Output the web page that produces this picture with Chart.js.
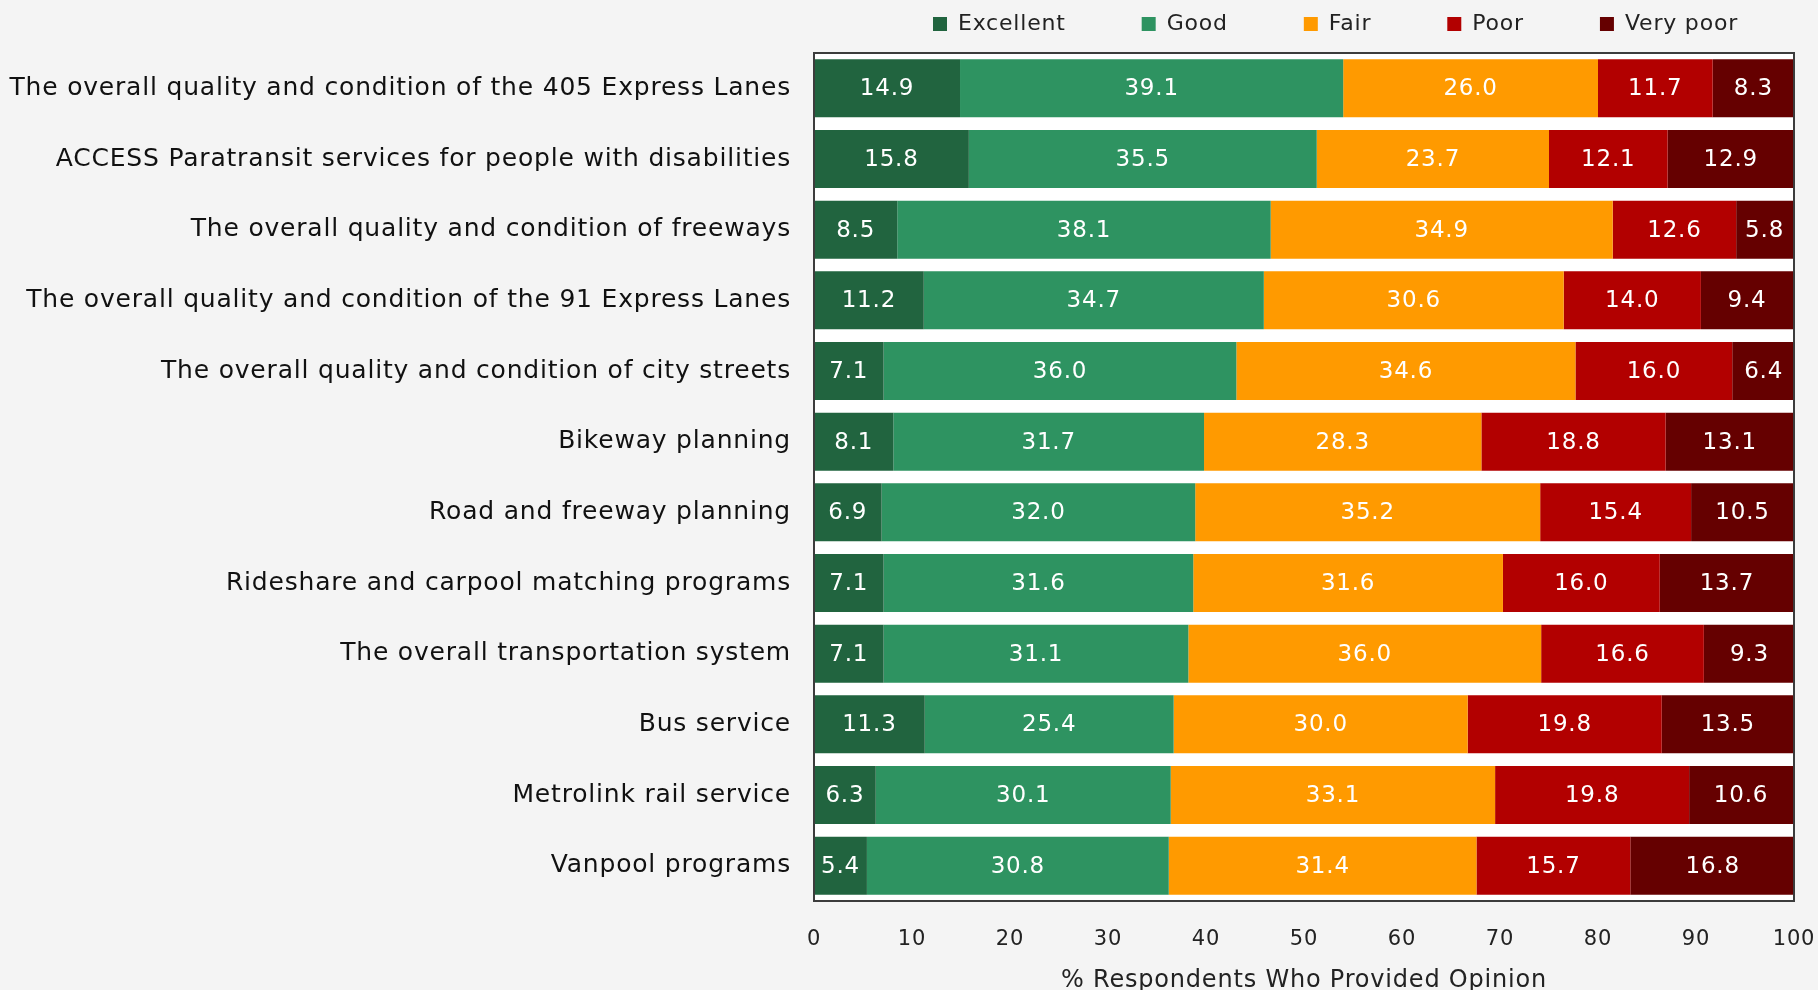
<!DOCTYPE html>
<html>
<head>
<meta charset="utf-8">
<script src="https://cdn.jsdelivr.net/npm/chart.js@4/dist/chart.umd.min.js"></script>
<style>
  html, body { margin: 0; padding: 0; background: #f4f4f4; }
  #wrap { width: 1818px; height: 990px; }
</style>
</head>
<body>
<div id="wrap"><canvas id="ratingChart" width="1818" height="990"></canvas></div>
<script>
// categories (top to bottom)
const services = [
    'The overall quality and condition of the 405 Express Lanes',
    'ACCESS Paratransit services for people with disabilities',
    'The overall quality and condition of freeways',
    'The overall quality and condition of the 91 Express Lanes',
    'The overall quality and condition of city streets',
    'Bikeway planning',
    'Road and freeway planning',
    'Rideshare and carpool matching programs',
    'The overall transportation system',
    'Bus service',
    'Metrolink rail service',
    'Vanpool programs'
];

// % respondents per rating
const excellent = [14.9, 15.8, 8.5, 11.2, 7.1, 8.1, 6.9, 7.1, 7.1, 11.3, 6.3, 5.4];
const good      = [39.1, 35.5, 38.1, 34.7, 36.0, 31.7, 32.0, 31.6, 31.1, 25.4, 30.1, 30.8];
const fair      = [26.0, 23.7, 34.9, 30.6, 34.6, 28.3, 35.2, 31.6, 36.0, 30.0, 33.1, 31.4];
const poor      = [11.7, 12.1, 12.6, 14.0, 16.0, 18.8, 15.4, 16.0, 16.6, 19.8, 19.8, 15.7];
const veryPoor  = [8.3, 12.9, 5.8, 9.4, 6.4, 13.1, 10.5, 13.7, 9.3, 13.5, 10.6, 16.8];

const xTicks = [0, 10, 20, 30, 40, 50, 60, 70, 80, 90, 100];

const FONT = 'DejaVu Sans';

// the original text is a bit spaced out
const spacing = {
    id: 'spacing',
    beforeLayout(chart) { chart.ctx.letterSpacing = '0.8px'; },
    beforeDraw(chart) { chart.ctx.letterSpacing = '0.8px'; }
};

// white plot box with dark frame
const plotBox = {
    id: 'plotBox',
    beforeDatasetsDraw(chart) {
        const a = chart.chartArea, ctx = chart.ctx;
        ctx.save();
        ctx.fillStyle = '#ffffff';
        ctx.fillRect(a.left, a.top, a.right - a.left, a.bottom - a.top);
        ctx.restore();
    },
    afterDatasetsDraw(chart) {
        const a = chart.chartArea, ctx = chart.ctx;
        ctx.save();
        ctx.strokeStyle = '#3c3c3c';
        ctx.lineWidth = 2;
        ctx.strokeRect(a.left, a.top, a.right - a.left, a.bottom - a.top);
        ctx.restore();
    }
};

// value labels inside each segment
const valueLabels = {
    id: 'valueLabels',
    afterDatasetsDraw(chart) {
        const ctx = chart.ctx;
        ctx.save();
        ctx.fillStyle = '#ffffff';
        ctx.font = '23px "' + FONT + '"';
        ctx.textAlign = 'center';
        ctx.textBaseline = 'middle';
        chart.data.datasets.forEach((ds, i) => {
            chart.getDatasetMeta(i).data.forEach((bar, j) => {
                const cx = (bar.x + bar.base) / 2;
                ctx.fillText(ds.data[j].toFixed(1), cx, bar.y + 1);
            });
        });
        ctx.restore();
    }
};

function initializeChart() {
    const series = [
        { label: 'Excellent', data: excellent, color: '#21643f' },
        { label: 'Good',      data: good,      color: '#2e9361' },
        { label: 'Fair',      data: fair,      color: '#ff9a00' },
        { label: 'Poor',      data: poor,      color: '#b20000' },
        { label: 'Very poor', data: veryPoor,  color: '#650000' }
    ];

    new Chart(document.getElementById('ratingChart'), {
        type: 'bar',
        data: {
            labels: services,
            datasets: series.map(s => ({
                label: s.label,
                data: s.data,
                backgroundColor: s.color,
                borderWidth: 0,
                categoryPercentage: 1,
                barPercentage: 0.82
            }))
        },
        options: {
            indexAxis: 'y',
            responsive: false,
            animation: false,
            devicePixelRatio: 1,
            layout: { padding: { top: -63, right: 4, bottom: 0, left: 0 } },
            plugins: {
                tooltip: { enabled: false },
                legend: {
                    position: 'top',
                    align: 'end',
                    labels: {
                        font: { family: FONT, size: 22 },
                        color: '#222222',
                        boxWidth: 14,
                        boxHeight: 14,
                        padding: 76
                    }
                }
            },
            scales: {
                x: {
                    stacked: true,
                    min: 0,
                    max: 100,
                    afterBuildTicks: s => { s.ticks = xTicks.map(v => ({ value: v })); },
                    grid: { display: false, drawTicks: false },
                    border: { display: false },
                    ticks: {
                        padding: 26,
                        color: '#222222',
                        font: { family: FONT, size: 21 }
                    },
                    title: {
                        display: true,
                        text: '% Respondents Who Provided Opinion',
                        color: '#222222',
                        font: { family: FONT, size: 24 },
                        padding: { top: 0, bottom: -5 }
                    },
                    afterFit: s => {
                        s.height = 89;
                        s.paddingLeft = 0;
                        s.paddingRight = 24;
                    }
                },
                // spacer between legend and plot box
                x2: {
                    type: 'linear',
                    position: 'top',
                    grid: { display: false, drawTicks: false },
                    border: { display: false },
                    ticks: { display: false },
                    afterFit: s => { s.height = 8; }
                },
                y: {
                    stacked: true,
                    grid: { display: false, drawTicks: false },
                    border: { display: false },
                    ticks: {
                        padding: 23,
                        color: '#111111',
                        font: { family: FONT, size: 25 }
                    },
                    afterFit: s => { s.width = 814; }
                }
            }
        },
        plugins: [spacing, plotBox, valueLabels]
    });
}

document.addEventListener('DOMContentLoaded', initializeChart);
</script>
</body>
</html>
